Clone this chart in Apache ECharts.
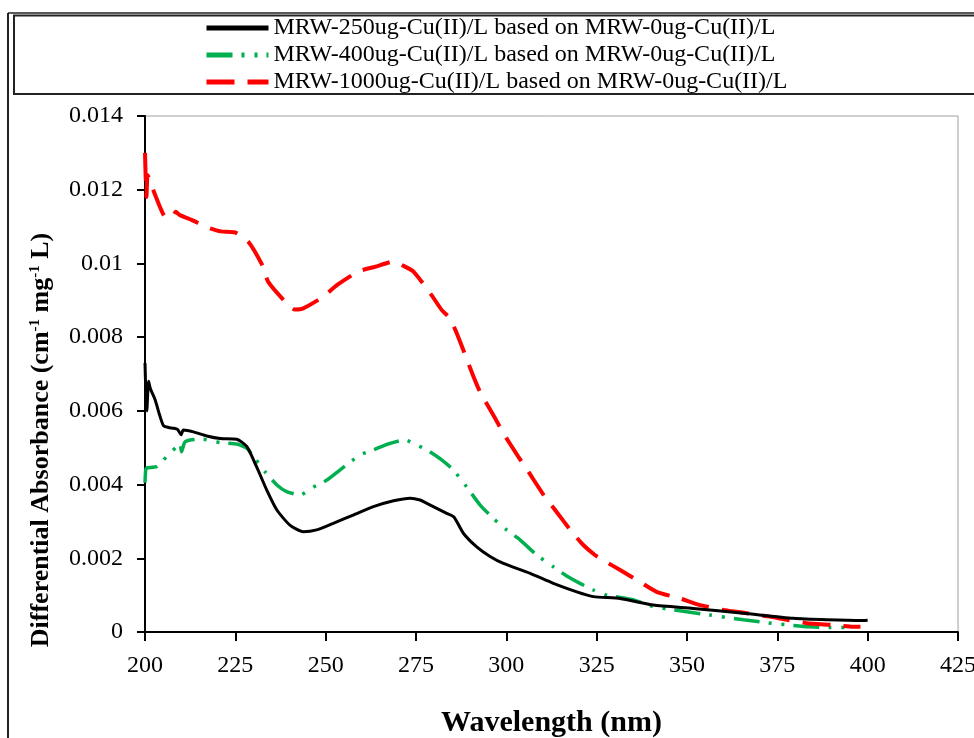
<!DOCTYPE html>
<html>
<head>
<meta charset="utf-8">
<script src="https://cdn.jsdelivr.net/npm/echarts@6/dist/echarts.min.js"></script>
<style>
html,body{margin:0;padding:0;background:#fff;}
#chart{width:974px;height:738px;}
</style>
</head>
<body>
<div id="chart"></div>
<script>
// ---- data (wavelength in nm, absorbance in 1e-3 cm^-1 mg^-1 L) ----
var seriesNames = [
  'MRW-250ug-Cu(II)/L based on MRW-0ug-Cu(II)/L',
  'MRW-400ug-Cu(II)/L based on MRW-0ug-Cu(II)/L',
  'MRW-1000ug-Cu(II)/L based on MRW-0ug-Cu(II)/L'
];
var wl250 = [200.0,200.2,200.5,201.0,201.5,202.8,204.0,205.1,206.5,207.8,209.0,210.0,210.6,213.4,217.1,220.8,225.4,228.2,230.9,233.7,236.5,240.1,243.8,247.5,252.1,257.6,263.2,268.8,273.4,276.1,278.0,283.5,285.5,288.1,291.8,295.5,299.2,306.6,313.0,319.5,324.1,331.5,340.7,351.7,365.6,379.4,388.7,398.8,400.0];
var abs250 = [7.3,6.6,6.0,6.8,6.6,6.3,5.9,5.6,5.55,5.53,5.5,5.35,5.48,5.43,5.32,5.25,5.23,5.03,4.48,3.85,3.31,2.90,2.72,2.77,2.95,3.17,3.40,3.56,3.63,3.58,3.49,3.22,3.12,2.68,2.31,2.05,1.86,1.59,1.32,1.09,0.96,0.91,0.73,0.64,0.51,0.37,0.33,0.31,0.32];
var wl400 = [200.0,200.2,200.5,203.2,206.9,208.5,209.7,210.1,211.0,212.5,216.1,220.8,225.4,228.2,230.4,233.2,236.5,239.2,242.9,246.6,250.3,254.0,259.5,263.2,267.3,272.0,275.2,278.0,282.1,285.3,289.0,292.7,296.4,300.1,303.8,308.4,313.0,316.7,320.4,324.1,327.8,335.2,340.7,346.3,356.4,365.6,375.0,384.1,390.0,396.0];
var abs400 = [4.05,4.4,4.45,4.49,4.85,5.0,5.1,4.89,5.15,5.21,5.23,5.14,5.10,4.98,4.71,4.35,3.99,3.81,3.72,3.93,4.12,4.40,4.80,4.94,5.10,5.21,5.07,4.94,4.67,4.40,3.94,3.45,3.08,2.77,2.50,2.09,1.77,1.52,1.32,1.14,1.00,0.87,0.69,0.60,0.46,0.33,0.22,0.14,0.12,0.12];
var wl1000 = [200.0,200.2,200.4,200.7,201.2,202.8,205.5,207.5,208.5,209.7,212.9,217.5,221.0,224.9,228.6,232.7,234.1,239.2,241.5,243.8,249.4,253.1,259.0,263.7,268.8,271.0,274.3,279.3,282.1,284.4,286.3,288.1,290.9,292.7,296.9,299.2,303.3,306.1,310.3,313.5,318.1,321.3,324.5,326.8,331.5,337.0,341.6,348.1,353.6,360.1,366.5,372.1,377.6,383.1,390.5,396.0,398.0];
var abs1000 = [13.0,12.3,11.8,12.4,12.3,11.86,11.27,11.25,11.4,11.31,11.18,10.97,10.87,10.84,10.59,9.91,9.50,8.92,8.75,8.78,9.10,9.41,9.78,9.91,10.05,9.96,9.78,9.14,8.74,8.51,8.10,7.65,6.93,6.52,5.80,5.39,4.76,4.35,3.72,3.31,2.72,2.36,2.09,1.95,1.68,1.36,1.09,0.91,0.73,0.60,0.51,0.43,0.33,0.24,0.19,0.14,0.14];
var xTicks = {min: 200, max: 425, step: 25};
var yTicks = {min: 0, max: 0.014, step: 0.002};

function pairs(xs, ys) {
  return xs.map(function (x, i) { return [x, ys[i] / 1000]; });
}

var FONT = '"Liberation Serif","Times New Roman",serif';
var chart = echarts.init(document.getElementById('chart'), null, {renderer: 'canvas'});
chart.setOption({
  backgroundColor: '#fff',
  animation: false,
  graphic: [
    {type: 'line', shape: {x1: 8, y1: 13, x2: 8, y2: 738}, style: {stroke: '#222', lineWidth: 2}},
    {type: 'line', shape: {x1: 8, y1: 13, x2: 974, y2: 13}, style: {stroke: '#222', lineWidth: 1.5}},
    {type: 'rect', shape: {x: 14, y: 15.5, width: 980, height: 78.5}, style: {fill: 'none', stroke: '#222', lineWidth: 2}}
  ],
  legend: {
    orient: 'vertical',
    left: 199,
    top: 11,
    itemWidth: 62,
    itemHeight: 20,
    itemGap: 3,
    itemStyle: {opacity: 0},
    lineStyle: {width: 5},
    textStyle: {fontFamily: FONT, fontSize: 24, color: '#000'},
    data: seriesNames
  },
  grid: {left: 145, right: 16, top: 116, bottom: 106, show: true, borderColor: '#a0a0a0', borderWidth: 1,
    containLabel: false, outerBoundsMode: 'none'},
  xAxis: {
    type: 'value', min: xTicks.min, max: xTicks.max, interval: xTicks.step,
    name: 'Wavelength (nm)', nameLocation: 'middle', nameGap: 76,
    nameTextStyle: {fontFamily: FONT, fontSize: 30, fontWeight: 'bold', color: '#000'},
    axisLine: {lineStyle: {color: '#000', width: 2}},
    axisTick: {show: true, inside: false, length: 9, lineStyle: {color: '#000', width: 2}},
    axisLabel: {fontFamily: FONT, fontSize: 24, color: '#000', margin: 22},
    splitLine: {show: false}
  },
  yAxis: {
    type: 'value', min: yTicks.min, max: yTicks.max, interval: yTicks.step,
    name: 'Differential Absorbance (cm{sup|-1} mg{sup|-1} L)', nameLocation: 'middle', nameGap: 90, nameRotate: 90,
    nameTextStyle: {fontFamily: FONT, fontSize: 26, fontWeight: 'bold', color: '#000', padding: [0, 132, 0, 0],
      rich: {sup: {fontFamily: FONT, fontSize: 15, fontWeight: 'bold', color: '#000', verticalAlign: 'top', padding: [0, 0, 12, 0]}}},
    axisLine: {lineStyle: {color: '#000', width: 2}},
    axisTick: {show: true, inside: false, length: 8, lineStyle: {color: '#000', width: 2}},
    axisLabel: {fontFamily: FONT, fontSize: 24, color: '#000', margin: 22},
    splitLine: {show: false}
  },
  series: [
    {name: seriesNames[0], type: 'line', showSymbol: false, symbol: 'none', smooth: 0.2,
     data: pairs(wl250, abs250), color: '#000', lineStyle: {color: '#000', width: 3}, z: 3},
    {name: seriesNames[1], type: 'line', showSymbol: false, symbol: 'none', smooth: 0.2,
     data: pairs(wl400, abs400), color: '#00B050', lineStyle: {color: '#00B050', width: 3.5, type: [26, 9, 3, 10, 3, 9]}, z: 2},
    {name: seriesNames[2], type: 'line', showSymbol: false, symbol: 'none', smooth: 0.2,
     data: pairs(wl1000, abs1000), color: '#FF0000', lineStyle: {color: '#FF0000', width: 4, type: [28, 13]}, z: 2}
  ]
});
</script>
</body>
</html>
